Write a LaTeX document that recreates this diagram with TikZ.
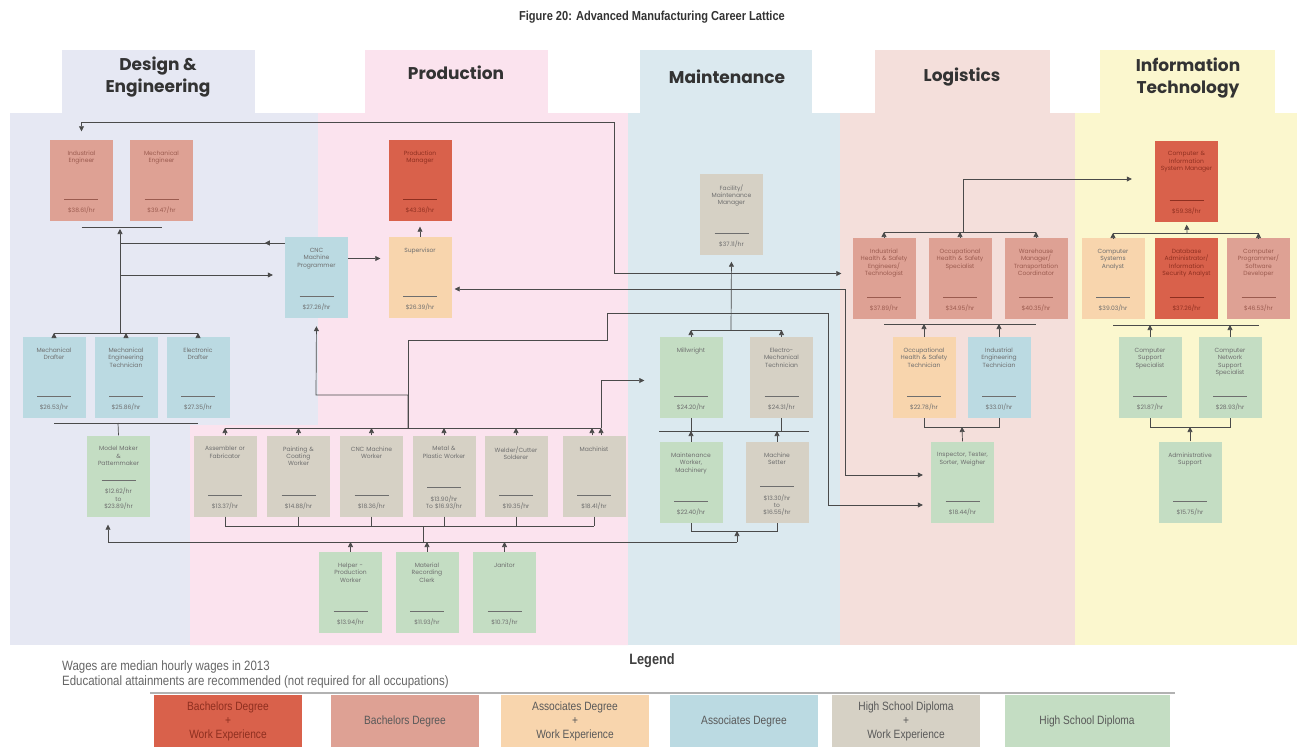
\documentclass[tikz,border=0pt]{standalone}
\usepackage{fontspec}
\setmainfont{Poppins}
\newfontfamily\condfont[FakeStretch=0.85]{Liberation Sans}
\usetikzlibrary{arrows.meta}

% education levels
\definecolor{cbachwork}{HTML}{D9614B}
\definecolor{cbach}{HTML}{DEA194}
\definecolor{cassocwork}{HTML}{F8D5AD}
\definecolor{cassoc}{HTML}{BBDAE2}
\definecolor{chswork}{HTML}{D6D1C5}
\definecolor{chsdip}{HTML}{C4DDC3}
% column backgrounds
\definecolor{bgdesign}{HTML}{E6E8F3}
\definecolor{bgprod}{HTML}{FBE3EE}
\definecolor{bgmaint}{HTML}{DBE9EF}
\definecolor{bglog}{HTML}{F4DFDB}
\definecolor{bgit}{HTML}{FBF7CE}
% text and lines
\definecolor{bwtext}{HTML}{8E2F20}
\definecolor{batext}{HTML}{9B5B4F}
\definecolor{boxtext}{HTML}{6E6E6E}
\definecolor{linegray}{HTML}{4A4A4A}

\tikzset{
  jobbox/.style={rectangle, minimum width=63pt, minimum height=81pt, inner sep=0pt},
  jobtitle/.style={font=\fontsize{6}{7.4}\selectfont, align=center, inner sep=0pt, text width=66pt},
  jobwage/.style={font=\fontsize{6}{7.4}\selectfont, align=center, inner sep=0pt, text width=66pt},
  bachwork/.style={fill=cbachwork}, bachwork txt/.style={text=bwtext},
  bach/.style={fill=cbach}, bach txt/.style={text=batext},
  assocwork/.style={fill=cassocwork}, assocwork txt/.style={text=boxtext},
  assoc/.style={fill=cassoc}, assoc txt/.style={text=boxtext},
  hswork/.style={fill=chswork}, hswork txt/.style={text=boxtext},
  hsdip/.style={fill=chsdip}, hsdip txt/.style={text=boxtext},
  colhead/.style={font=\fontsize{17}{22}\selectfont\bfseries, text=black!80, align=center},
  legbox/.style={minimum width=148pt, minimum height=52pt, inner sep=0pt, align=center,
    font=\condfont\fontsize{12}{14}\selectfont, text=black!65},
  legnote/.style={font=\condfont\fontsize{13.5}{15}\selectfont, text=black!60, inner sep=0pt},
  link/.style={draw=linegray, line width=0.7pt},
  >={Triangle[width=5pt,length=5pt]},
}

% box with title, rule and wage
\newcommand{\careerbox}[5]{%
  \node[jobbox, #3] (#1) at (#2) {};
  \node[jobtitle, #3 txt, anchor=north] at ([yshift=-11pt]#1.north) {#4};
  \node[jobwage, #3 txt, anchor=south] at ([yshift=7pt]#1.south) {\rule{34pt}{0.4pt}\\[6pt]#5};
}

\begin{document}
\begin{tikzpicture}[x=1pt, y=-1pt]
  \useasboundingbox (0,0) rectangle (1304,747);
  \fill[white] (0,0) rectangle (1304,747);

  % column backgrounds
  \fill[bgdesign] (10,113) rectangle (318,645);
  \fill[bgdesign] (62,50) rectangle (255,113);
  \fill[bgprod] (318,113) -- (628,113) -- (628,645) -- (190,645) -- (190,425) -- (318,425) -- cycle;
  \fill[bgprod] (365,50) rectangle (548,113);
  \fill[bgmaint] (628,113) rectangle (840,645);
  \fill[bgmaint] (640,50) rectangle (812,113);
  \fill[bglog] (840,113) rectangle (1075,645);
  \fill[bglog] (875,50) rectangle (1050,113);
  \fill[bgit] (1075,113) rectangle (1297,645);
  \fill[bgit] (1100,50) rectangle (1275,113);

  \node[font=\condfont\fontsize{13}{15}\selectfont\bfseries, text=black!80] (title) at (652,17)
    {Figure 20: Advanced Manufacturing Career Lattice};
  \node[colhead] (hdesign) at (158,77) {Design \&\\Engineering};
  \node[colhead] (hprod) at (456,73) {Production};
  \node[colhead] (hmaint) at (727,77) {Maintenance};
  \node[colhead] (hlog) at (962,77) {Logistics};
  \node[colhead] (hit) at (1188,78) {Information\\Technology};

  % design & engineering
  \careerbox{indeng}{81.5,180}{bach}{Industrial\\Engineer}{\$38.61/hr}
  \careerbox{meceng}{161.5,180}{bach}{Mechanical\\Engineer}{\$39.47/hr}
  \careerbox{mdraft}{54,377.5}{assoc}{Mechanical\\Drafter}{\$26.53/hr}
  \careerbox{metech}{126,377.5}{assoc}{Mechanical\\Engineering\\Technician}{\$25.86/hr}
  \careerbox{edraft}{198,377.5}{assoc}{Electronic\\Drafter}{\$27.35/hr}
  \careerbox{modelmk}{118.5,476}{hsdip}{Model Maker\\\&\\Patternmaker}{\$12.62/hr\\to\\\$23.89/hr}

  % production
  \careerbox{prodmgr}{420,180}{bachwork}{Production\\Manager}{\$43.36/hr}
  \careerbox{cnc}{316.5,277.5}{assoc}{CNC\\Machine\\Programmer}{\$27.26/hr}
  \careerbox{superv}{420,277.5}{assocwork}{Supervisor}{\$26.39/hr}
  \careerbox{assembler}{225,476}{hswork}{Assembler or\\Fabricator}{\$13.37/hr}
  \careerbox{painter}{298.5,476}{hswork}{Painting \&\\Coating\\Worker}{\$14.88/hr}
  \careerbox{cncwork}{371.5,476}{hswork}{CNC Machine\\Worker}{\$18.36/hr}
  \careerbox{metal}{444,476}{hswork}{Metal \&\\Plastic Worker}{\$13.90/hr\\To \$16.93/hr}
  \careerbox{welder}{516,476}{hswork}{Welder/Cutter\\Solderer}{\$19.35/hr}
  \careerbox{machinist}{594,476}{hswork}{Machinist}{\$18.41/hr}
  \careerbox{helper}{350.5,592.5}{hsdip}{Helper -\\Production\\Worker}{\$13.94/hr}
  \careerbox{clerk}{427,592.5}{hsdip}{Material\\Recording\\Clerk}{\$11.93/hr}
  \careerbox{janitor}{504.5,592.5}{hsdip}{Janitor}{\$10.73/hr}

  % maintenance
  \careerbox{facmgr}{731.5,214}{hswork}{Facility/\\Maintenance\\Manager}{\$37.11/hr}
  \careerbox{millwright}{691,377.5}{hsdip}{Millwright}{\$24.20/hr}
  \careerbox{electro}{781.5,377.5}{hswork}{Electro-\\Mechanical\\Technician}{\$24.31/hr}
  \careerbox{maintwork}{691,482.5}{hsdip}{Maintenance\\Worker,\\Machinery}{\$22.40/hr}
  \careerbox{setter}{777,482.5}{hswork}{Machine\\Setter}{\$13.30/hr\\to\\\$16.55/hr}

  % logistics
  \careerbox{ihse}{884,278.5}{bach}{Industrial\\Health \& Safety\\Engineers/\\Technologist}{\$37.89/hr}
  \careerbox{ohss}{960,278.5}{bach}{Occupational\\Health \& Safety\\Specialist}{\$34.95/hr}
  \careerbox{wmtc}{1036,278.5}{bach}{Warehouse\\Manager/\\Transportation\\Coordinator}{\$40.35/hr}
  \careerbox{ohst}{924,377.5}{assocwork}{Occupational\\Health \& Safety\\Technician}{\$22.78/hr}
  \careerbox{iet}{999,377.5}{assoc}{Industrial\\Engineering\\Technician}{\$33.01/hr}
  \careerbox{inspect}{962.5,482}{hsdip}{Inspector, Tester,\\Sorter, Weigher}{\$18.44/hr}

  % information technology
  \careerbox{itmgr}{1186.5,181}{bachwork}{Computer \&\\Information\\System Manager}{\$59.38/hr}
  \careerbox{csa}{1113,278.5}{assocwork}{Computer\\Systems\\Analyst}{\$39.03/hr}
  \careerbox{dba}{1186.5,278.5}{bachwork}{Database\\Administrator/\\Information\\Security Analyst}{\$37.26/hr}
  \careerbox{cpsd}{1258.5,278.5}{bach}{Computer\\Programmer/\\Software\\Developer}{\$46.53/hr}
  \careerbox{css}{1150,377.5}{hsdip}{Computer\\Support\\Specialist}{\$21.87/hr}
  \careerbox{cnss}{1230,377.5}{hsdip}{Computer\\Network\\Support\\Specialist}{\$28.93/hr}
  \careerbox{admin}{1190,482}{hsdip}{Administrative\\Support}{\$15.75/hr}

  % bus coordinates
  \coordinate (topline) at (614,122);
  \coordinate (engbus) at (120,227);
  \coordinate (cncout) at (120,243);
  \coordinate (cncin) at (120,275);
  \coordinate (draftbus) at (120,333);
  \coordinate (draftlow) at (118,423);
  \coordinate (lowbus) at (108,542);
  \coordinate (maintlow) at (737,542);
  \coordinate (prodbus) at (408,428);
  \coordinate (cncup) at (316,395);
  \coordinate (produp) at (607,340);
  \coordinate (prodlow) at (423,526);
  \coordinate (linea) at (845,289);
  \coordinate (lineb) at (828,313);
  \coordinate (machup) at (601,428);
  \coordinate (maintbus) at (731,330);
  \coordinate (maintmid) at (731,431);
  \coordinate (maintbrk) at (737,531);
  \coordinate (logbus) at (963,232);
  \coordinate (itlink) at (963,179);
  \coordinate (logmid) at (962,324);
  \coordinate (loglow) at (962,427);
  \coordinate (itbus) at (1187,233);
  \coordinate (itmid) at (1190,325);
  \coordinate (itlow) at (1190,427);

  % design & engineering links
  \draw[link, <->, shorten <=8pt, shorten >=11pt] (indeng.north) |- (topline) |- ([yshift=5pt]ihse.west);
  \draw[link] (indeng.south |- engbus) -- (meceng.south |- engbus);
  \draw[link, ->, shorten >=2pt] (draftbus) -- (engbus);
  \draw[link] (cncout) -- (cncout -| cnc.west);
  \draw[link, ->] (cncout -| cnc.west) -- ++(-20,0);
  \draw[link, ->, shorten >=12pt] (cncin) -- (cncin -| cnc.west);
  \draw[link] (mdraft.north |- draftbus) -- (edraft.north |- draftbus);
  \foreach \n in {mdraft, metech, edraft}
    \draw[link, ->] (\n.north) -- (\n.north |- draftbus);
  \draw[link] (mdraft.south |- draftlow) -- (edraft.south |- draftlow);
  \draw[link] (draftlow) -- (modelmk.north);
  \draw[link, ->, shorten >=8pt] (lowbus) -- (lowbus |- modelmk.south);
  \draw[link] (lowbus) -- (maintlow);

  % production links
  \draw[link, ->, shorten >=6pt] (superv) -- (prodmgr);
  \draw[link, ->, shorten >=8pt] ([yshift=19pt]cnc.east) -- ([yshift=19pt]superv.west);
  \draw[link, <->, shorten <=3pt, shorten >=8pt] ([yshift=-11.5pt]superv.east) -| (linea) |- ([yshift=7pt]inspect.west);
  \draw[link] (assembler.north |- prodbus) -- (machup);
  \foreach \n in {assembler, painter, cncwork, metal, welder}
    \draw[link, ->] (\n.north) -- (\n.north |- prodbus);
  \draw[link, ->] ([xshift=-2pt]machinist.north) -- ([xshift=-2pt]machinist.north |- prodbus);
  \draw[link, ->] ([xshift=7pt]machinist.north) -- (machup);
  \draw[link, ->, shorten >=8pt] (prodbus) |- (cncup) -- (cnc.south);
  \draw[link, ->, shorten >=8pt] (prodbus) |- (produp) |- (lineb) |- ([yshift=-23pt]inspect.west);
  \draw[link, ->, shorten >=15pt] (machup) |- ([yshift=-3pt]millwright.west);
  \draw[link] (assembler.south |- prodlow) -- (machinist.south |- prodlow);
  \foreach \n in {assembler, painter, cncwork, metal, welder, machinist}
    \draw[link] (\n.south) -- (\n.south |- prodlow);
  \draw[link] (prodlow) -- (prodlow |- lowbus);
  \foreach \n in {helper, clerk, janitor}
    \draw[link, ->] (\n.north) -- (\n.north |- lowbus);

  % maintenance links
  \draw[link] (millwright.north |- maintbus) -- (electro.north |- maintbus);
  \foreach \n in {millwright, electro}
    \draw[link, ->] (\n.north) -- (\n.north |- maintbus);
  \draw[link, ->, shorten >=7pt] (maintbus) -- (facmgr.south);
  \draw[link] (maintwork.north west |- maintmid) -- (setter.north east |- maintmid);
  \foreach \n in {millwright, electro}
    \draw[link] (\n.south) -- (\n.south |- maintmid);
  \foreach \n in {maintwork, setter}
    \draw[link, ->] (\n.north) -- (\n.north |- maintmid);
  \draw[link] (maintwork.south) -- (maintwork.south |- maintbrk) -- (setter.south |- maintbrk) -- (setter.south);
  \draw[link, ->] (maintlow) -- (maintbrk);

  % logistics links
  \draw[link] (ihse.north |- logbus) -- (wmtc.north |- logbus);
  \foreach \n in {ihse, ohss, wmtc}
    \draw[link, ->] (\n.north) -- (\n.north |- logbus);
  \draw[link, ->, shorten >=23pt] (logbus) -- (itlink) -- (itlink -| itmgr.west);
  \draw[link] (ihse.south |- logmid) -- (wmtc.south |- logmid);
  \foreach \n in {ohst, iet}
    \draw[link, ->] (\n.north) -- (\n.north |- logmid);
  \draw[link] (ohst.south) -- (ohst.south |- loglow) -- (iet.south |- loglow) -- (iet.south);
  \draw[link, ->] (inspect.north) -- (loglow);

  % information technology links
  \draw[link] (csa.north |- itbus) -- (cpsd.north |- itbus);
  \foreach \n in {csa, cpsd}
    \draw[link, ->] (\n.north) -- (\n.north |- itbus);
  \draw[link, ->, shorten >=3pt] (itbus) -- (itmgr.south);
  \draw[link] (csa.south |- itmid) -- (cpsd.south |- itmid);
  \foreach \n in {css, cnss}
    \draw[link, ->] (\n.north) -- (\n.north |- itmid);
  \draw[link] (css.south) -- (css.south |- itlow) -- (cnss.south |- itlow) -- (cnss.south);
  \draw[link, ->] (admin.north) -- (itlow);

  % legend
  \node[font=\condfont\fontsize{15}{17}\selectfont\bfseries, text=black!75] (legend) at (652,661) {Legend};
  \node[legnote, anchor=base west] (note1) at (62,670) {Wages are median hourly wages in 2013};
  \node[legnote, anchor=base west] (note2) at (62,685) {Educational attainments are recommended (not required for all occupations)};
  \draw[line width=1.6pt, black!30] (150,693) -- (1175,693);
  \node[legbox, fill=cbachwork, text=bwtext] (lbachwork) at (228,721) {Bachelors Degree\\+\\Work Experience};
  \node[legbox, fill=cbach] (lbach) at (405,721) {Bachelors Degree};
  \node[legbox, fill=cassocwork] (lassocwork) at (575,721) {Associates Degree\\+\\Work Experience};
  \node[legbox, fill=cassoc] (lassoc) at (744,721) {Associates Degree};
  \node[legbox, fill=chswork] (lhswork) at (906,721) {High School Diploma\\+\\Work Experience};
  \node[legbox, fill=chsdip, minimum width=165pt] (lhsdip) at (1087,721) {High School Diploma};
\end{tikzpicture}
\end{document}
